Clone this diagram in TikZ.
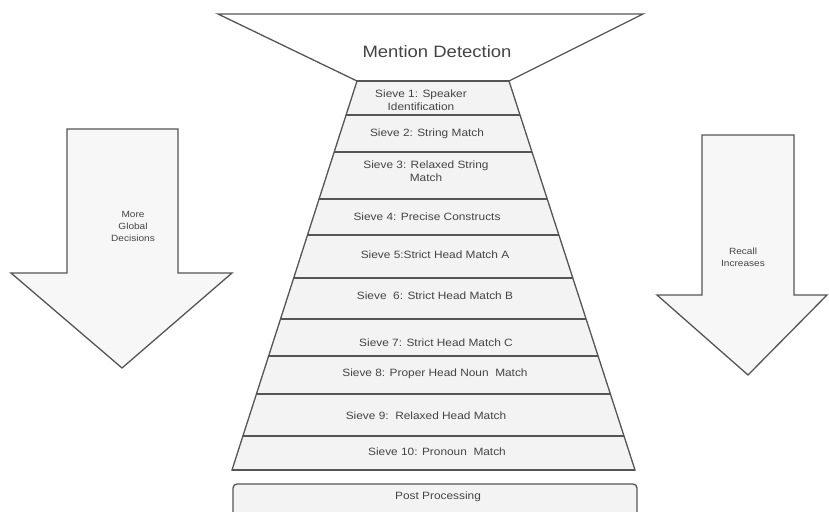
\documentclass[tikz,border=0pt]{standalone}
\usepackage{fontspec}
\setmainfont[FakeStretch=1.12]{Liberation Sans}
\usetikzlibrary{calc}
\definecolor{edge}{HTML}{555555}
\definecolor{sievefill}{HTML}{F3F3F3}
\definecolor{arrowfill}{HTML}{F7F7F7}
\definecolor{txt}{HTML}{444444}
\tikzset{
  shape line/.style={draw=edge, line width=1.3pt, line join=miter},
  sep line/.style={draw=edge, line width=1.6pt},
  sievetext/.style={text=txt, font=\fontsize{10.6}{13}\selectfont, align=center, inner sep=0pt},
  arrowtext/.style={text=txt, font=\fontsize{9}{12}\selectfont, align=center, inner sep=0pt},
  titletext/.style={text=txt, font=\fontsize{16.5}{19}\selectfont, inner sep=0pt},
}
\begin{document}
\begin{tikzpicture}[x=1pt, y=-1pt]
\useasboundingbox (0,0) rectangle (829,511);
\fill[white] (0,0) rectangle (829,511);

% funnel top
\draw[shape line, fill=white] (218,14) -- (643,14) -- (509,81) -- (357,81) -- cycle;
\node[titletext] (md) at (437,52) {Mention Detection};

% sieve stack
\coordinate (TL) at (357,81);
\coordinate (BL) at (232,470);
\coordinate (TR) at (509,81);
\coordinate (BR) at (635,470);
\draw[shape line, fill=sievefill] (TL) -- (TR) -- (BR) -- (BL) -- cycle;
\foreach \yy in {115,152,199,235,278,319,356,394,436}{
  \pgfmathsetmacro{\tpos}{(\yy-81)/389}
  \draw[sep line] ($(TL)!\tpos!(BL)$) -- ($(TR)!\tpos!(BR)$);
}
\draw[sep line] (TL) -- (TR);
\draw[sep line] (BL) -- (BR);

\node[sievetext] (s1) at (421,100) {Sieve 1: Speaker\\Identification};
\node[sievetext] (s2) at (427,134) {Sieve 2: String Match};
\node[sievetext] (s3) at (426,171) {Sieve 3: Relaxed String\\Match};
\node[sievetext] (s4) at (427,217) {Sieve 4: Precise Constructs};
\node[sievetext] (s5) at (435,255) {Sieve 5:Strict Head Match A};
\node[sievetext] (s6) at (435,296) {Sieve\ \ 6: Strict Head Match B};
\node[sievetext] (s7) at (436,343) {Sieve 7: Strict Head Match C};
\node[sievetext] (s8) at (435,374) {Sieve 8: Proper Head Noun\ \ Match};
\node[sievetext] (s9) at (426,416) {Sieve 9:\ \ Relaxed Head Match};
\node[sievetext] (s10) at (437,452) {Sieve 10: Pronoun\ \ Match};

% post processing
\draw[shape line, fill=sievefill, rounded corners=4pt] (233,520) -- (233,484) -- (637,484) -- (637,520);
\node[sievetext] (pp) at (438,497) {Post Processing};

% left arrow
\draw[shape line, fill=arrowfill] (67,129) -- (178,129) -- (178,273) -- (232,273) -- (122,368) -- (11,273) -- (67,273) -- cycle;
\node[arrowtext] (la) at (133,226) {More\\Global\\Decisions};

% right arrow
\draw[shape line, fill=arrowfill] (702,135) -- (794,135) -- (794,295) -- (827,295) -- (748,375) -- (657,295) -- (702,295) -- cycle;
\node[arrowtext] (ra) at (743,257) {Recall\\Increases};
\end{tikzpicture}
\end{document}
